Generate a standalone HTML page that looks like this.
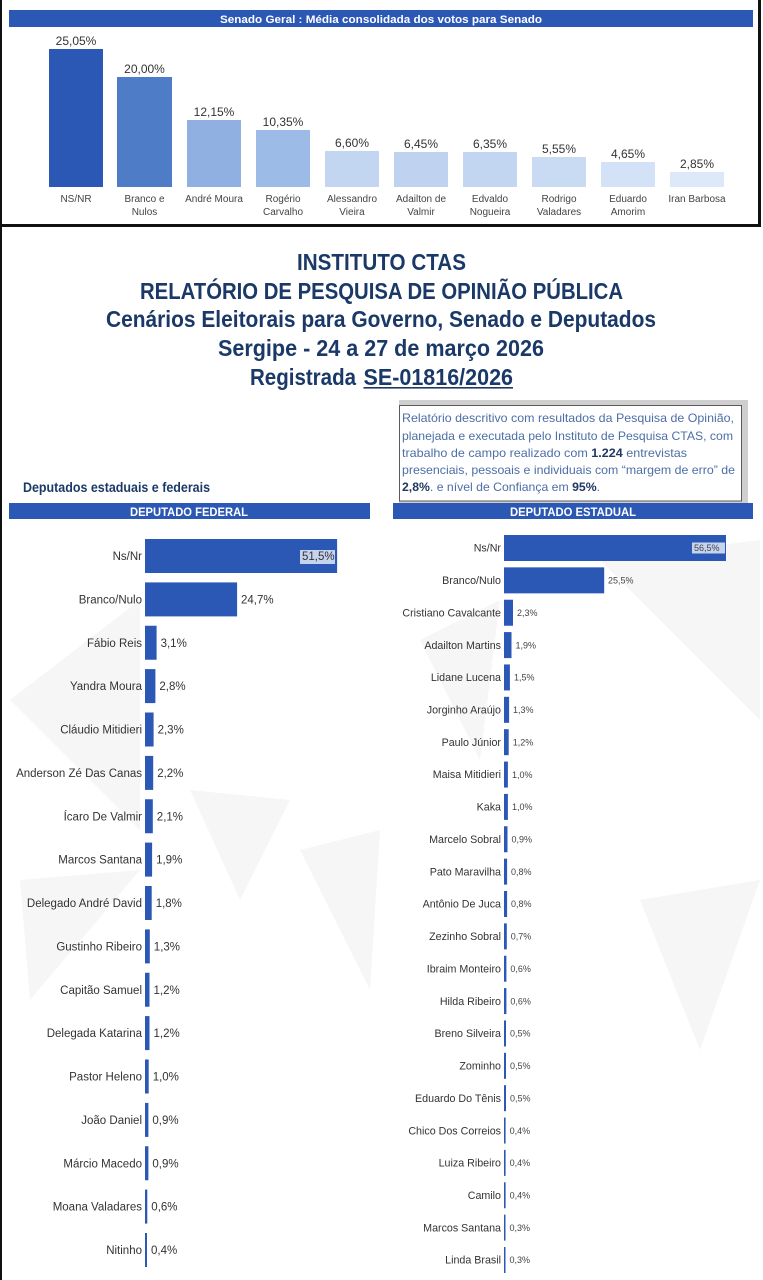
<!DOCTYPE html>
<html><head><meta charset="utf-8"><style>
html,body{margin:0;padding:0;background:#fff;}
svg{display:block;}
</style></head><body>
<svg width="763" height="1280" viewBox="0 0 763 1280" xmlns="http://www.w3.org/2000/svg" font-family="'Liberation Sans', sans-serif">
<rect x="0" y="0" width="763" height="1280" fill="#fff"/>

<!-- watermark triangles -->
<g fill="#f6f6f6">
<polygon points="10,700 140,600 140,830"/>
<polygon points="190,790 290,800 240,900"/>
<polygon points="300,850 380,830 370,990"/>
<polygon points="20,880 140,870 30,1000"/>
<polygon points="600,560 760,540 760,720"/>
<polygon points="640,900 760,880 700,1050"/>
<polygon points="420,640 500,600 480,760"/>
</g>

<!-- frame -->
<rect x="0" y="0" width="2" height="1280" fill="#111"/>
<rect x="758" y="0" width="3" height="226" fill="#111"/>
<rect x="0" y="224" width="761" height="3" fill="#111"/>

<!-- Senado header -->
<rect x="9" y="10" width="744" height="17" fill="#2b57b5"/>
<text x="220" y="23" font-size="11" font-weight="bold" fill="#fff" textLength="322" lengthAdjust="spacingAndGlyphs">Senado Geral : Média consolidada dos votos para Senado</text>

<!-- Senado bars -->
<g>
<rect x="49" y="49" width="54" height="138" fill="#2b57b5"/>
<rect x="117" y="77" width="55" height="110" fill="#4f7cc7"/>
<rect x="187" y="120" width="54" height="67" fill="#8fb0e0"/>
<rect x="256" y="130" width="54" height="57" fill="#9cbbe6"/>
<rect x="325" y="151" width="54" height="36" fill="#c3d6f1"/>
<rect x="394" y="152" width="54" height="35" fill="#bfd3f0"/>
<rect x="463" y="152" width="54" height="35" fill="#c2d6f1"/>
<rect x="532" y="157" width="54" height="30" fill="#c9dbf3"/>
<rect x="601" y="162" width="54" height="25" fill="#d3e2f6"/>
<rect x="670" y="172" width="54" height="15" fill="#dde9f8"/>
</g>
<g font-size="12" fill="#333" text-anchor="middle">
<text x="76" y="45">25,05%</text>
<text x="144.5" y="73">20,00%</text>
<text x="214" y="116">12,15%</text>
<text x="283" y="126">10,35%</text>
<text x="352" y="147">6,60%</text>
<text x="421" y="148">6,45%</text>
<text x="490" y="148">6,35%</text>
<text x="559" y="153">5,55%</text>
<text x="628" y="158">4,65%</text>
<text x="697" y="168">2,85%</text>
</g>
<g font-size="10" fill="#444" text-anchor="middle">
<text x="76" y="202">NS/NR</text>
<text x="144.5" y="202">Branco e</text><text x="144.5" y="215">Nulos</text>
<text x="214" y="202">André Moura</text>
<text x="283" y="202">Rogério</text><text x="283" y="215">Carvalho</text>
<text x="352" y="202">Alessandro</text><text x="352" y="215">Vieira</text>
<text x="421" y="202">Adailton de</text><text x="421" y="215">Valmir</text>
<text x="490" y="202">Edvaldo</text><text x="490" y="215">Nogueira</text>
<text x="559" y="202">Rodrigo</text><text x="559" y="215">Valadares</text>
<text x="628" y="202">Eduardo</text><text x="628" y="215">Amorim</text>
<text x="697" y="202">Iran Barbosa</text>
</g>

<!-- Titles -->
<g font-weight="bold" fill="#1b3968" font-size="23">
<text x="297" y="270" textLength="169" lengthAdjust="spacingAndGlyphs">INSTITUTO CTAS</text>
<text x="140" y="299" textLength="483" lengthAdjust="spacingAndGlyphs">RELATÓRIO DE PESQUISA DE OPINIÃO PÚBLICA</text>
<text x="106" y="327" textLength="550" lengthAdjust="spacingAndGlyphs">Cenários Eleitorais para Governo, Senado e Deputados</text>
<text x="218" y="356" textLength="326" lengthAdjust="spacingAndGlyphs">Sergipe - 24 a 27 de março 2026</text>
<text x="250" y="385" textLength="106" lengthAdjust="spacingAndGlyphs">Registrada</text>
<text x="363.5" y="385" textLength="149.5" lengthAdjust="spacingAndGlyphs">SE-01816/2026</text>
</g>
<rect x="363.5" y="387" width="149.5" height="1.6" fill="#1b3968"/>

<!-- text box -->
<rect x="399" y="400" width="349" height="103" fill="#cfcfcf"/>
<rect x="399.5" y="405.5" width="342" height="95.5" fill="#fff" stroke="#5a5a5a" stroke-width="1"/>
<g font-size="12" fill="#4d6ea6">
<text x="402" y="422" textLength="332" lengthAdjust="spacingAndGlyphs">Relatório descritivo com resultados da Pesquisa de Opinião,</text>
<text x="402" y="440" textLength="331" lengthAdjust="spacingAndGlyphs">planejada e executada pelo Instituto de Pesquisa CTAS, com</text>
<text x="402" y="457" textLength="285" lengthAdjust="spacingAndGlyphs">trabalho de campo realizado com <tspan font-weight="bold" fill="#1f3864">1.224</tspan> entrevistas</text>
<text x="402" y="474" textLength="333" lengthAdjust="spacingAndGlyphs">presenciais, pessoais e individuais com “margem de erro” de</text>
<text x="402" y="491" textLength="198" lengthAdjust="spacingAndGlyphs"><tspan font-weight="bold" fill="#1f3864">2,8%</tspan>. e nível de Confiança em <tspan font-weight="bold" fill="#1f3864">95%</tspan>.</text>
</g>

<!-- section heading -->
<text x="23" y="492" font-size="13.5" font-weight="bold" fill="#1b3968" textLength="187" lengthAdjust="spacingAndGlyphs">Deputados estaduais e federais</text>

<rect x="9" y="503" width="361" height="16" fill="#2b57b5"/>
<rect x="393" y="503" width="360" height="16" fill="#2b57b5"/>
<text x="130" y="516" font-size="12" font-weight="bold" fill="#fff" textLength="118" lengthAdjust="spacingAndGlyphs">DEPUTADO FEDERAL</text>
<text x="510" y="516" font-size="12" font-weight="bold" fill="#fff" textLength="126" lengthAdjust="spacingAndGlyphs">DEPUTADO ESTADUAL</text>

<!-- Federal chart -->
<g fill="#2b57b5">
<rect x="145" y="539" width="192.1" height="34"/>
<rect x="145" y="582.4" width="92.1" height="34"/>
<rect x="145" y="625.75" width="11.6" height="34"/>
<rect x="145" y="669.1" width="10.4" height="34"/>
<rect x="145" y="712.5" width="8.6" height="34"/>
<rect x="145" y="755.9" width="8.2" height="34"/>
<rect x="145" y="799.25" width="7.8" height="34"/>
<rect x="145" y="842.6" width="7.1" height="34"/>
<rect x="145" y="886" width="6.7" height="34"/>
<rect x="145" y="929.4" width="4.8" height="34"/>
<rect x="145" y="972.75" width="4.5" height="34"/>
<rect x="145" y="1016.1" width="4.5" height="34"/>
<rect x="145" y="1059.5" width="3.7" height="34"/>
<rect x="145" y="1102.9" width="3.4" height="34"/>
<rect x="145" y="1146.25" width="3.4" height="34"/>
<rect x="145" y="1189.6" width="2.3" height="34"/>
<rect x="145" y="1233" width="2" height="34"/>
</g>
<g font-size="11.5" fill="#333" text-anchor="end">
<text x="142" y="560">Ns/Nr</text>
<text x="142" y="603.4">Branco/Nulo</text>
<text x="142" y="646.75">Fábio Reis</text>
<text x="142" y="690.1">Yandra Moura</text>
<text x="142" y="733.5">Cláudio Mitidieri</text>
<text x="142" y="776.9">Anderson Zé Das Canas</text>
<text x="142" y="820.25">Ícaro De Valmir</text>
<text x="142" y="863.6">Marcos Santana</text>
<text x="142" y="907">Delegado André David</text>
<text x="142" y="950.4">Gustinho Ribeiro</text>
<text x="142" y="993.75">Capitão Samuel</text>
<text x="142" y="1037.1">Delegada Katarina</text>
<text x="142" y="1080.5">Pastor Heleno</text>
<text x="142" y="1123.9">João Daniel</text>
<text x="142" y="1167.25">Márcio Macedo</text>
<text x="142" y="1210.6">Moana Valadares</text>
<text x="142" y="1254">Nitinho</text>
</g>
<rect x="300" y="550" width="35" height="14" fill="#c5d3ee"/>
<g font-size="11.5" fill="#333">
<text x="302" y="560">51,5%</text>
<text x="241" y="603.4">24,7%</text>
<text x="160.6" y="646.75">3,1%</text>
<text x="159.4" y="690.1">2,8%</text>
<text x="157.6" y="733.5">2,3%</text>
<text x="157.2" y="776.9">2,2%</text>
<text x="156.8" y="820.25">2,1%</text>
<text x="156.1" y="863.6">1,9%</text>
<text x="155.7" y="907">1,8%</text>
<text x="153.8" y="950.4">1,3%</text>
<text x="153.5" y="993.75">1,2%</text>
<text x="153.5" y="1037.1">1,2%</text>
<text x="152.7" y="1080.5">1,0%</text>
<text x="152.4" y="1123.9">0,9%</text>
<text x="152.4" y="1167.25">0,9%</text>
<text x="151.3" y="1210.6">0,6%</text>
<text x="151" y="1254">0,4%</text>
</g>

<!-- Estadual chart -->
<g fill="#2b57b5">
<rect x="504" y="535" width="222" height="26"/>
<rect x="504" y="567.36" width="100.2" height="26"/>
<rect x="504" y="599.73" width="9" height="26"/>
<rect x="504" y="632.09" width="7.5" height="26"/>
<rect x="504" y="664.45" width="5.9" height="26"/>
<rect x="504" y="696.82" width="5.1" height="26"/>
<rect x="504" y="729.18" width="4.7" height="26"/>
<rect x="504" y="761.55" width="3.9" height="26"/>
<rect x="504" y="793.91" width="3.9" height="26"/>
<rect x="504" y="826.27" width="3.5" height="26"/>
<rect x="504" y="858.64" width="3.1" height="26"/>
<rect x="504" y="891" width="3.1" height="26"/>
<rect x="504" y="923.36" width="2.8" height="26"/>
<rect x="504" y="955.73" width="2.4" height="26"/>
<rect x="504" y="988.09" width="2.4" height="26"/>
<rect x="504" y="1020.45" width="2" height="26"/>
<rect x="504" y="1052.82" width="2" height="26"/>
<rect x="504" y="1085.18" width="2" height="26"/>
<rect x="504" y="1117.55" width="1.6" height="26"/>
<rect x="504" y="1149.91" width="1.6" height="26"/>
<rect x="504" y="1182.27" width="1.6" height="26"/>
<rect x="504" y="1214.64" width="1.5" height="26"/>
<rect x="504" y="1247" width="1.5" height="26"/>
</g>
<g font-size="10.7" fill="#333" text-anchor="end">
<text x="501" y="551.7">Ns/Nr</text>
<text x="501" y="584.1">Branco/Nulo</text>
<text x="501" y="616.4">Cristiano Cavalcante</text>
<text x="501" y="648.8">Adailton Martins</text>
<text x="501" y="681.2">Lidane Lucena</text>
<text x="501" y="713.5">Jorginho Araújo</text>
<text x="501" y="745.9">Paulo Júnior</text>
<text x="501" y="778.2">Maisa Mitidieri</text>
<text x="501" y="810.6">Kaka</text>
<text x="501" y="843">Marcelo Sobral</text>
<text x="501" y="875.3">Pato Maravilha</text>
<text x="501" y="907.7">Antônio De Juca</text>
<text x="501" y="940.1">Zezinho Sobral</text>
<text x="501" y="972.4">Ibraim Monteiro</text>
<text x="501" y="1004.8">Hilda Ribeiro</text>
<text x="501" y="1037.2">Breno Silveira</text>
<text x="501" y="1069.5">Zominho</text>
<text x="501" y="1101.9">Eduardo Do Tênis</text>
<text x="501" y="1134.3">Chico Dos Correios</text>
<text x="501" y="1166.6">Luiza Ribeiro</text>
<text x="501" y="1199">Camilo</text>
<text x="501" y="1231.3">Marcos Santana</text>
<text x="501" y="1263.7">Linda Brasil</text>
</g>
<rect x="692" y="542.5" width="33" height="11" fill="#c5d3ee"/>
<g font-size="9" fill="#444">
<text x="694" y="551.2">56,5%</text>
<text x="608" y="583.6">25,5%</text>
<text x="517" y="616">2,3%</text>
<text x="515.5" y="648.3">1,9%</text>
<text x="514" y="680.7">1,5%</text>
<text x="513" y="713">1,3%</text>
<text x="512.7" y="745.4">1,2%</text>
<text x="512" y="777.8">1,0%</text>
<text x="512" y="810.1">1,0%</text>
<text x="511.5" y="842.5">0,9%</text>
<text x="511" y="874.8">0,8%</text>
<text x="511" y="907.2">0,8%</text>
<text x="510.8" y="939.6">0,7%</text>
<text x="510.4" y="971.9">0,6%</text>
<text x="510.4" y="1004.3">0,6%</text>
<text x="510" y="1036.7">0,5%</text>
<text x="510" y="1069">0,5%</text>
<text x="510" y="1101.4">0,5%</text>
<text x="509.6" y="1133.8">0,4%</text>
<text x="509.6" y="1166.1">0,4%</text>
<text x="509.6" y="1198.5">0,4%</text>
<text x="509.5" y="1230.8">0,3%</text>
<text x="509.5" y="1263.2">0,3%</text>
</g>
</svg>
</body></html>
